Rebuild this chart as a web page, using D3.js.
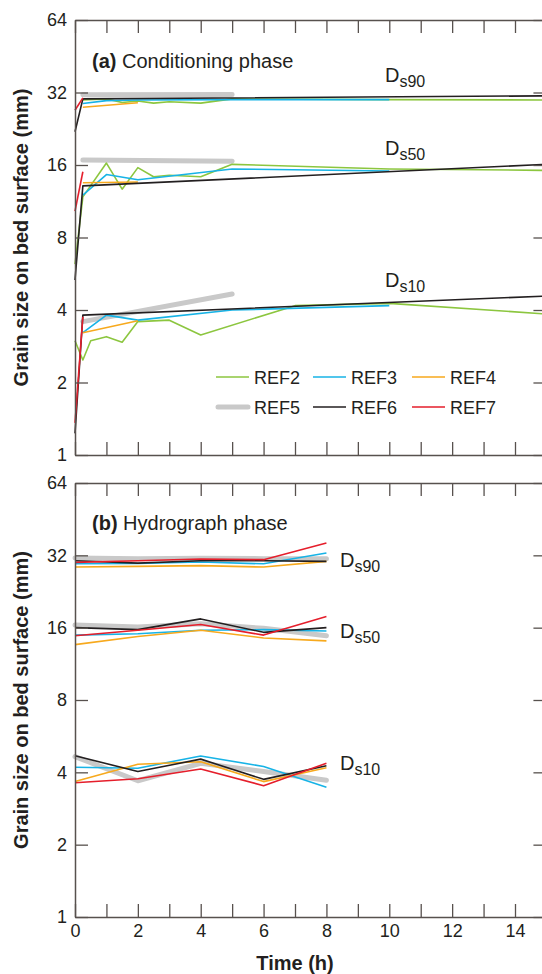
<!DOCTYPE html>
<html>
<head>
<meta charset="utf-8">
<script src="https://cdn.jsdelivr.net/npm/d3@7/dist/d3.min.js"></script>
<style>
  html, body { margin: 0; padding: 0; background: #fff; }
  svg { display: block; font-family: "Liberation Sans", Arial, Helvetica, sans-serif; }
</style>
</head>
<body>
<svg id="chart" width="542" height="974"></svg>
<script>
// ---- Series and labels ----
const series = ["REF2", "REF3", "REF4", "REF5", "REF6", "REF7"];
const seriesColors = ["#8cc63f", "#17b3e6", "#f7a91d", "#c9c9c9", "#231f20", "#e51e2b"];
const yTickValues = [1, 2, 4, 8, 16, 32, 64];
const hourTicks = d3.range(0, 16);
const xLabelTicks = [0, 2, 4, 6, 8, 10, 12, 14];
const groupLabels = ["90", "50", "10"];

// (a) Conditioning phase: [time (h), grain size (mm)] per run
const condDs90 = [
  ["REF2", [[0.25, 29.8], [1, 30.1], [1.5, 29.1], [2, 29.5], [2.5, 28.9], [3, 29.3], [4, 28.9], [5, 30.1], [10, 29.9], [15, 29.8]]],
  ["REF3", [[0.25, 28.8], [1, 29.6], [2, 29.8], [5, 29.9], [10, 29.9]]],
  ["REF4", [[0.25, 27.8], [2, 29.0]]],
  ["REF5", [[0.25, 31.3], [5, 31.4]]],
  ["REF6", [[0, 22.0], [0.25, 30.1], [15, 31.0]]],
  ["REF7", [[0, 27.0], [0.25, 30.4]]]
];
const condDs50 = [
  ["REF2", [[0, 6.2], [0.25, 11.8], [1, 16.3], [1.5, 12.7], [2, 15.6], [2.5, 14.3], [3, 14.5], [4, 14.3], [5, 16.1], [10, 15.4], [15, 15.2]]],
  ["REF3", [[0.25, 12.0], [1, 14.6], [2, 13.9], [5, 15.4], [10, 15.1]]],
  ["REF4", [[0.25, 13.5], [2, 13.6]]],
  ["REF5", [[0.25, 16.8], [5, 16.6]]],
  ["REF6", [[0, 5.33], [0.25, 13.1], [15, 16.1]]],
  ["REF7", [[0, 10.3], [0.25, 15.0]]]
];
const condDs10 = [
  ["REF2", [[0, 2.98], [0.25, 2.48], [0.5, 2.98], [1, 3.1], [1.5, 2.94], [2, 3.58], [3, 3.63], [4, 3.15], [7, 4.17], [10, 4.26], [15, 3.85]]],
  ["REF3", [[0.25, 3.22], [1, 3.81], [2, 3.63], [5, 4.0], [10, 4.17]]],
  ["REF4", [[0.25, 3.22], [2, 3.61]]],
  ["REF5", [[0.25, 3.58], [5, 4.66]]],
  ["REF6", [[0, 1.23], [0.25, 3.81], [15, 4.57]]],
  ["REF7", [[0, 1.36], [0.25, 3.75]]]
];

// (b) Hydrograph phase: sampled every 2 h
const hydroTimes = [0, 2, 4, 6, 8];
const hydroDs90 = [
  ["REF3", [29.5, 29.6, 30.0, 29.5, 32.7]],
  ["REF4", [28.6, 28.8, 29.0, 28.6, 30.2]],
  ["REF5", [31.2, 31.0, 31.1, 31.0, 31.0]],
  ["REF6", [30.4, 29.7, 30.4, 30.4, 30.2]],
  ["REF7", [29.9, 30.4, 30.9, 30.7, 36.0]]
];
const hydroDs50 = [
  ["REF3", [14.9, 15.1, 15.6, 15.7, 15.5]],
  ["REF4", [13.6, 14.7, 15.6, 14.5, 14.1]],
  ["REF5", [16.4, 16.1, 16.6, 15.9, 14.8]],
  ["REF6", [16.0, 15.7, 17.4, 15.3, 16.0]],
  ["REF7", [14.8, 15.6, 16.5, 14.9, 17.8]]
];
const hydroDs10 = [
  ["REF3", [4.2, 4.16, 4.68, 4.23, 3.47]],
  ["REF4", [3.66, 4.32, 4.43, 3.66, 4.18]],
  ["REF5", [4.65, 3.69, 4.36, 4.03, 3.71]],
  ["REF6", [4.69, 4.03, 4.54, 3.74, 4.26]],
  ["REF7", [3.62, 3.76, 4.13, 3.52, 4.36]]
];

// ---- Layout ----
const svg = d3.select("#chart");
const axisColor = "#57514e";
const left = 75, hourPx = 440 / 14;
const right = left + 15 * hourPx;
const color = d3.scaleOrdinal().domain(series).range(seriesColors);
const x = d3.scaleLinear().domain([0, 15]).range([left, right]);

const panels = [
  { top: 20, bottom: 455, title: "(a)", subtitle: " Conditioning phase", titleY: 68,
    groups: [condDs90, condDs50, condDs10], timeAxis: false,
    dsLabels: [{x: 385, y: 82}, {x: 385, y: 155}, {x: 385, y: 287}] },
  { top: 483, bottom: 917, title: "(b)", subtitle: " Hydrograph phase", titleY: 530,
    groups: [hydroDs90, hydroDs50, hydroDs10].map(g => g.map(([k, v]) => [k, v.map((d, i) => [hydroTimes[i], d])])),
    timeAxis: true,
    dsLabels: [{x: 340, y: 567}, {x: 340, y: 638}, {x: 340, y: 770}] }
];

const drawOrder = ["REF5", "REF2", "REF3", "REF4", "REF6", "REF7"];

panels.forEach(p => {
  const y = d3.scaleLog().base(2).domain([1, 64]).range([p.bottom, p.top]);
  const g = svg.append("g");

  // lines
  const line = d3.line().x(d => x(d[0])).y(d => y(d[1]));
  p.groups.forEach(group => {
    const sorted = drawOrder.map(k => group.find(s => s[0] === k)).filter(Boolean);
    sorted.forEach(([key, pts]) => {
      const thick = key === "REF5";
      g.append("path")
        .attr("d", line(pts))
        .attr("fill", "none")
        .attr("stroke", color(key))
        .attr("stroke-width", thick ? 5 : 1.6)
        .attr("stroke-linecap", thick ? "round" : "butt")
        .attr("stroke-linejoin", "round");
    });
  });

  // frame axes with inward ticks
  const styleAxis = sel => {
    sel.selectAll(".domain").attr("stroke", axisColor).attr("stroke-width", 1.5);
    sel.selectAll(".tick line").attr("stroke", axisColor).attr("stroke-width", 1.3);
    sel.selectAll(".tick text").attr("fill", "#231f20").attr("font-size", 18)
      .attr("font-family", "Liberation Sans, Arial, sans-serif");
  };
  g.append("g").attr("transform", `translate(${left},0)`)
    .call(d3.axisLeft(y).tickValues(yTickValues).tickFormat(d3.format("d"))
      .tickSizeInner(-13).tickSizeOuter(0).tickPadding(8))
    .call(styleAxis);
  g.append("g").attr("transform", `translate(${right},0)`)
    .call(d3.axisRight(y).tickValues(yTickValues).tickFormat("")
      .tickSizeInner(-13).tickSizeOuter(0))
    .call(styleAxis);
  g.append("g").attr("transform", `translate(0,${p.top})`)
    .call(d3.axisTop(x).tickValues(hourTicks).tickFormat("")
      .tickSizeInner(-13).tickSizeOuter(0))
    .call(styleAxis);
  g.append("g").attr("transform", `translate(0,${p.bottom})`)
    .call(d3.axisBottom(x).tickValues(hourTicks)
      .tickFormat(d => (p.timeAxis && xLabelTicks.includes(d)) ? d : "")
      .tickSizeInner(-13).tickSizeOuter(0).tickPadding(7))
    .call(styleAxis);

  // panel title
  const t = g.append("text").attr("x", 92).attr("y", p.titleY)
    .attr("font-size", 20).attr("fill", "#231f20");
  t.append("tspan").attr("font-weight", "bold").text(p.title);
  t.append("tspan").text(p.subtitle);

  // Ds labels
  p.dsLabels.forEach((pos, i) => {
    const lt = g.append("text").attr("x", pos.x).attr("y", pos.y)
      .attr("font-size", 20).attr("fill", "#231f20");
    lt.append("tspan").text("D");
    lt.append("tspan").attr("font-size", 16).attr("dy", 5).text("s" + groupLabels[i]);
  });

  // y-axis title
  g.append("text")
    .attr("transform", `translate(28,${(p.top + p.bottom) / 2}) rotate(-90)`)
    .attr("text-anchor", "middle")
    .attr("font-size", 20).attr("font-weight", "bold").attr("fill", "#231f20")
    .text("Grain size on bed surface (mm)");
});

// legend (panel a)
const legendCols = [216, 313, 412];
const legendRows = [377, 407];
const legend = svg.append("g");
series.forEach((key, i) => {
  const lx = legendCols[i % 3], ly = legendRows[Math.floor(i / 3)];
  const thick = key === "REF5";
  legend.append("line")
    .attr("x1", lx + (thick ? 2 : 0)).attr("x2", lx + 33 - (thick ? 1 : 0))
    .attr("y1", ly).attr("y2", ly)
    .attr("stroke", color(key))
    .attr("stroke-width", thick ? 5 : 1.6)
    .attr("stroke-linecap", thick ? "round" : "butt");
  legend.append("text").attr("x", lx + 38).attr("y", ly + 7)
    .attr("font-size", 18).attr("fill", "#231f20").text(key);
});

// x-axis title
svg.append("text")
  .attr("x", x(7)).attr("y", 970)
  .attr("text-anchor", "middle")
  .attr("font-size", 20).attr("font-weight", "bold").attr("fill", "#231f20")
  .text("Time (h)");
</script>
</body>
</html>
